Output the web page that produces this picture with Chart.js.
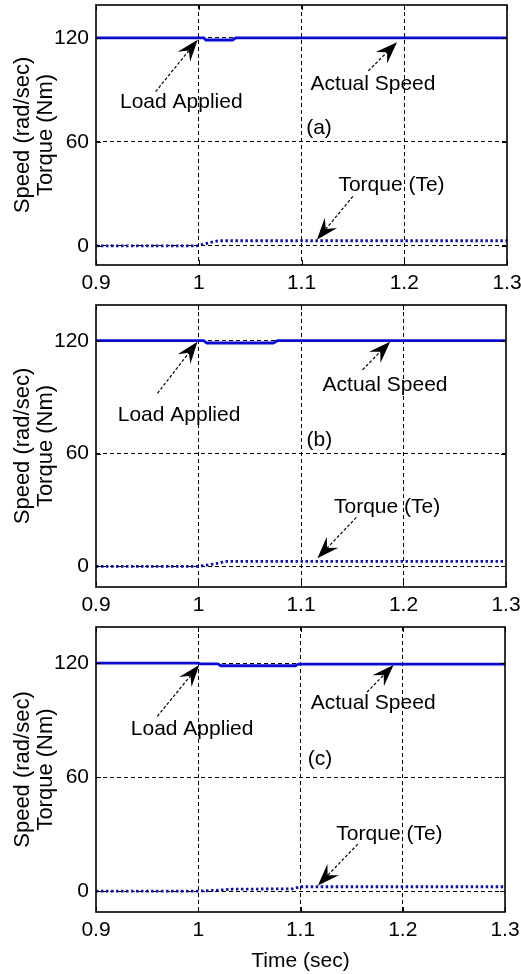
<!DOCTYPE html>
<html>
<head>
<meta charset="utf-8">
<script src="https://cdn.jsdelivr.net/npm/chart.js@4.4.1/dist/chart.umd.min.js"></script>
<style>
  html, body { margin: 0; padding: 0; background: #fff; }
  #wrap { position: relative; width: 521px; height: 974px; }
  canvas { position: absolute; left: 0; }
</style>
</head>
<body>
<div id="wrap">
  <canvas id="panelA" width="521" height="300" style="top:0px"></canvas>
  <canvas id="panelB" width="521" height="322" style="top:300px"></canvas>
  <canvas id="panelC" width="521" height="352" style="top:622px"></canvas>
</div>
<script>
const xTicks = [0.9, 1.0, 1.1, 1.2, 1.3];
const xTickLabels = ['0.9', '1', '1.1', '1.2', '1.3'];
const yTicks = [0, 60, 120];

// case (a)
const speedTimeA = [0.9, 1.0, 1.005, 1.007, 1.033, 1.036, 1.3];
const speedA     = [120, 120, 120, 118.8, 118.8, 120, 120];
const torqueTimeA = [0.9, 0.998, 1.006, 1.014, 1.02, 1.3];
const torqueA     = [0, 0, 1.2, 2.4, 3, 3];

// case (b)
const speedTimeB = [0.9, 1.0, 1.005, 1.008, 1.073, 1.077, 1.3];
const speedB     = [120, 120, 120, 118.8, 118.8, 120, 120];
const torqueTimeB = [0.9, 0.999, 1.01, 1.018, 1.026, 1.3];
const torqueB     = [0, 0, 0.8, 1.5, 2.6, 2.6];

// case (c)
const speedTimeC = [0.9, 1.0, 1.002, 1.019, 1.022, 1.095, 1.098, 1.3];
const speedC     = [120, 120, 119.6, 119.6, 118.6, 118.6, 119.5, 119.5];
const torqueTimeC = [0.9, 1.0, 1.02, 1.033, 1.092, 1.1, 1.3];
const torqueC     = [0, 0, 0.5, 1, 1.2, 2.3, 2.3];

// text notes [text, x, y] and arrows [tailX, tailY, tipX, tipY], in data units
const notesA = [['Load Applied', 0.983, 82.7], ['Actual Speed', 1.1696, 93.2], ['(a)', 1.117, 68.2], ['Torque (Te)', 1.1876, 35]];
const arrowsA = [[0.958, 89, 0.999, 119], [1.165, 101, 1.193, 117.5], [1.150, 28.6, 1.115, 3.5]];
const notesB = [['Load Applied', 0.981, 80.5], ['Actual Speed', 1.182, 96.5], ['(b)', 1.118, 67.2], ['Torque (Te)', 1.184, 31.5]];
const arrowsB = [[0.960, 92, 0.999, 119.5], [1.160, 104.5, 1.187, 119.5], [1.154, 26, 1.116, 4.3]];
const notesC = [['Load Applied', 0.994, 85.3], ['Actual Speed', 1.171, 99], ['(c)', 1.119, 69.5], ['Torque (Te)', 1.187, 30]];
const arrowsC = [[0.960, 92, 1.001, 119], [1.165, 104.7, 1.191, 119], [1.156, 24.7, 1.117, 3]];

const FONT = '"Liberation Sans", Arial, Helvetica, sans-serif';
const pairs = (xs, ys) => xs.map((t, i) => ({x: t, y: ys[i]}));

function drawArrow(ctx, x0, y0, x1, y1) {
  const ang = Math.atan2(y1 - y0, x1 - x0);
  const len = 22, half = 8, notch = 14;
  const cos = Math.cos(ang), sin = Math.sin(ang);
  const bx = x1 - len * cos, by = y1 - len * sin;
  ctx.save();
  ctx.strokeStyle = '#000';
  ctx.lineWidth = 1.2;
  ctx.setLineDash([3, 2]);
  ctx.beginPath();
  ctx.moveTo(x0, y0);
  ctx.lineTo(x1 - notch * cos, y1 - notch * sin);
  ctx.stroke();
  ctx.setLineDash([]);
  ctx.fillStyle = '#000';
  ctx.beginPath();
  ctx.moveTo(x1, y1);
  ctx.lineTo(bx + half * sin, by - half * cos);
  ctx.lineTo(x1 - notch * cos, y1 - notch * sin);
  ctx.lineTo(bx - half * sin, by + half * cos);
  ctx.closePath();
  ctx.fill();
  ctx.restore();
}

// axes box, inward ticks and the annotations
const framePlugin = {
  id: 'frame',
  afterDatasetsDraw(chart, args, opts) {
    const {ctx, chartArea: a, scales: {x, y}} = chart;
    ctx.save();
    ctx.strokeStyle = '#000';
    ctx.lineWidth = 1;
    ctx.beginPath();
    xTicks.forEach(v => {
      const px = Math.round(x.getPixelForValue(v)) + 0.5;
      ctx.moveTo(px, a.bottom); ctx.lineTo(px, a.bottom - 5);
      ctx.moveTo(px, a.top); ctx.lineTo(px, a.top + 5);
    });
    yTicks.forEach(v => {
      const py = Math.round(y.getPixelForValue(v)) + 0.5;
      ctx.moveTo(a.left, py); ctx.lineTo(a.left + 5, py);
      ctx.moveTo(a.right, py); ctx.lineTo(a.right - 5, py);
    });
    ctx.stroke();
    ctx.lineWidth = 1.6;
    ctx.strokeRect(a.left, a.top, a.right - a.left, a.bottom - a.top);

    ctx.font = '21px ' + FONT;
    ctx.fillStyle = '#000';
    ctx.textAlign = 'center';
    ctx.textBaseline = 'middle';
    opts.notes.forEach(n => ctx.fillText(n[0], x.getPixelForValue(n[1]), y.getPixelForValue(n[2])));
    opts.arrows.forEach(r => drawArrow(ctx,
      x.getPixelForValue(r[0]), y.getPixelForValue(r[1]),
      x.getPixelForValue(r[2]), y.getPixelForValue(r[3])));
    ctx.restore();
  }
};

function makePanel(id, speedT, speed, torqueT, torque, notes, arrows, opt) {
  return new Chart(document.getElementById(id), {
    type: 'line',
    data: {
      datasets: [
        {
          label: 'Actual Speed',
          data: pairs(speedT, speed),
          borderColor: '#0b0bd2',
          borderWidth: 2.8,
          pointRadius: 0,
          tension: 0
        },
        {
          label: 'Torque (Te)',
          data: pairs(torqueT, torque),
          borderColor: '#12129c',
          borderWidth: 2.8,
          borderDash: [2.5, 2.5],
          pointRadius: 0,
          tension: 0
        }
      ]
    },
    options: {
      responsive: false,
      animation: false,
      devicePixelRatio: 1,
      layout: { padding: { top: 5, right: opt.right, left: 0, bottom: 0 } },
      plugins: {
        legend: { display: false },
        tooltip: { enabled: false },
        frame: { notes: notes, arrows: arrows }
      },
      scales: {
        x: {
          type: 'linear',
          min: 0.9,
          max: 1.3,
          afterBuildTicks: s => { s.ticks = xTicks.map(v => ({value: v})); },
          afterFit: s => { s.height = opt.xHeight; s.paddingLeft = 0; s.paddingRight = 0; },
          ticks: {
            padding: 6,
            color: '#000',
            font: { family: FONT, size: 21 },
            maxRotation: 0,
            autoSkip: false,
            callback: (v, i) => xTickLabels[i]
          },
          grid: {
            drawTicks: false,
            color: c => (c.tick && (c.tick.value <= 0.9 || c.tick.value >= 1.3)) ? 'rgba(0,0,0,0)' : '#000',
            lineWidth: 1
          },
          border: { display: false, dash: [4, 3] },
          title: {
            display: opt.xTitle,
            text: 'Time (sec)',
            color: '#000',
            font: { family: FONT, size: 21 },
            padding: { top: 3, bottom: 0 }
          }
        },
        y: {
          min: -11,
          max: 139,
          afterBuildTicks: s => { s.ticks = yTicks.map(v => ({value: v})); },
          afterFit: s => { s.width = 96; s.paddingTop = 0; s.paddingBottom = 0; },
          ticks: {
            padding: 7,
            color: '#000',
            font: { family: FONT, size: 21 },
            callback: v => String(v)
          },
          grid: { drawTicks: false, color: '#000', lineWidth: 1 },
          border: { display: false, dash: [4, 3] },
          title: {
            display: true,
            text: ['Speed (rad/sec)', 'Torque (Nm)'],
            color: '#000',
            font: { family: FONT, size: 22, lineHeight: 1.05 },
            padding: { top: 11, bottom: 0 }
          }
        }
      }
    },
    plugins: [framePlugin]
  });
}

makePanel('panelA', speedTimeA, speedA, torqueTimeA, torqueA, notesA, arrowsA, { right: 14, xHeight: 35, xTitle: false });
makePanel('panelB', speedTimeB, speedB, torqueTimeB, torqueB, notesB, arrowsB, { right: 15, xHeight: 35, xTitle: false });
makePanel('panelC', speedTimeC, speedC, torqueTimeC, torqueC, notesC, arrowsC, { right: 16, xHeight: 62, xTitle: true });
</script>
</body>
</html>
